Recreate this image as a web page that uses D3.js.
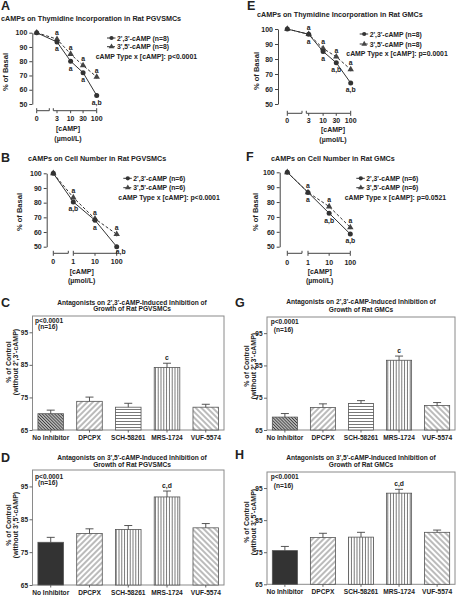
<!DOCTYPE html>
<html><head><meta charset="utf-8">
<script src="https://cdn.jsdelivr.net/npm/d3@7"></script>
<style>
body{margin:0;background:#fff;}
text{font-family:"Liberation Sans",Arial,sans-serif;font-weight:bold;fill:#222;}
</style></head><body>
<script>
// ---------- DATA ----------
const doseA = [0, 3, 10, 30, 100];
const doseB = [0, 1, 10, 100];
const yTicksLine = [50, 60, 70, 80, 90, 100];

const a23 = [100, 93.5, 80, 72, 56];
const a35 = [100, 95.5, 85, 77, 69];
const a23Err = [0, 1, 1, 1, 1.2];
const a35Err = [0, 1, 1, 1, 1.2];
const a23Lab = ["", "a", "a", "a", "a,b"];
const a35Lab = ["", "a", "a", "a", "a"];

const e23 = [100, 96.5, 85, 77.5, 64];
const e35 = [100, 96.5, 87, 81.5, 73];
const e23Err = [0, 1, 1.2, 1, 1.3];
const e35Err = [0, 1, 1, 1, 1.2];
const e23Lab = ["", "a", "a", "a,b", "a,b"];
const e35Lab = ["", "a", "a", "a", "a"];

const b23 = [100, 80.5, 68, 50];
const b35 = [100, 83.5, 69, 58.5];
const b23Err = [0, 1, 1, 1.3];
const b35Err = [0, 1, 1, 1.5];
const b23Lab = ["", "a,b", "a", "a,b"];
const b35Lab = ["", "a", "a", "a"];

const f23 = [100, 86.5, 72.5, 58.5];
const f35 = [100, 86.5, 77, 63];
const f23Err = [0, 1, 1, 1.2];
const f35Err = [0, 1, 1, 1.2];
const f23Lab = ["", "a", "a,b", "a,b"];
const f35Lab = ["", "a", "a", "a"];

const inhibitors = ["No Inhibitor", "DPCPX", "SCH-58261", "MRS-1724", "VUF-5574"];
const yTicksBar = [65, 75, 85, 95];
const cVals = [70, 73.8, 72, 84.2, 72];
const cErr = [1.1, 1.3, 1.2, 1.3, 0.9];
const dVals = [78, 80.7, 81.9, 91.8, 82.4];
const dErr = [1.5, 1.4, 1.2, 1.8, 1.3];
const gVals = [69, 72, 73.2, 86.6, 72.6];
const gErr = [1.1, 1.1, 0.9, 1.3, 0.9];
const hVals = [75.5, 79.6, 79.7, 93.4, 81.2];
const hErr = [1.3, 1.3, 1.5, 1.2, 0.7];

// ---------- SVG ----------
const svg = d3.select("body").append("svg").attr("width", 457).attr("height", 599);
const defs = svg.append("defs");
function linePat(id, spacing, angle, color, w, bg) {
  const p = defs.append("pattern").attr("id", id).attr("patternUnits", "userSpaceOnUse")
    .attr("width", spacing).attr("height", spacing)
    .attr("patternTransform", `rotate(${angle})`);
  if (bg) p.append("rect").attr("width", spacing).attr("height", spacing).attr("fill", bg);
  p.append("line").attr("x1", spacing / 2).attr("x2", spacing / 2).attr("y1", 0).attr("y2", spacing)
    .attr("stroke", color).attr("stroke-width", w);
}
linePat("pDark", 2.2, -45, "#3a3a3a", 1.3, "#fff");
linePat("pUp", 4, 45, "#555", 0.8, "#fff");
linePat("pDown", 4, -45, "#555", 0.8, "#fff");
linePat("pHoriz", 3, 90, "#555", 0.8, "#fff");
linePat("pVert", 2.8, 0, "#555", 0.8, "#fff");

function txt(g, x, y, s, size, anchor) {
  return g.append("text").attr("x", x).attr("y", y).attr("font-size", size)
    .attr("text-anchor", anchor || "start").text(s);
}

// ---------- LINE PANELS ----------
function linePanel(c) {
  const g = svg.append("g");
  txt(g, c.lx, c.ly, c.letter, 12.5);
  txt(g, c.tx, c.ty, c.title, 7.2);
  const y = d3.scaleLinear().domain([50, 100]).range([c.yBot, c.yTop]);
  const xl = d3.scaleLog().domain([c.doses[1], 100]).range([c.x1, c.x100]);
  const xp = v => v === 0 ? c.x0 : xl(v);

  const ya = g.append("g").attr("transform", `translate(${c.axX},0)`)
    .call(d3.axisLeft(y).tickValues(yTicksLine).tickSize(3).tickSizeOuter(0).tickPadding(2));
  ya.selectAll("text").attr("font-size", 7).attr("font-family", "Liberation Sans, Arial").attr("font-weight", "bold").attr("fill", "#222");
  ya.selectAll("path,line").attr("stroke", "#444");

  const ax = g.append("g").attr("stroke", "#444").attr("stroke-width", 1);
  [c.seg1, c.seg2].forEach(s => {
    ax.append("line").attr("x1", s[0]).attr("x2", s[1]).attr("y1", c.axY).attr("y2", c.axY);
    ax.append("line").attr("x1", s[0]).attr("x2", s[0]).attr("y1", c.axY - 2.5).attr("y2", c.axY);
    ax.append("line").attr("x1", s[1]).attr("x2", s[1]).attr("y1", c.axY - 2.5).attr("y2", c.axY);
  });
  c.doses.forEach(d => {
    ax.append("line").attr("x1", xp(d)).attr("x2", xp(d)).attr("y1", c.axY).attr("y2", c.axY + 2.5);
    txt(g, xp(d), c.tickLabY, String(d), 7, "middle");
  });
  txt(g, c.unitX, c.unitY1, "[cAMP]", 7, "middle");
  txt(g, c.unitX, c.unitY2, "(\u00b5mol/L)", 7, "middle");
  g.append("text").attr("transform", `translate(${c.ylabX},${c.ylabY}) rotate(-90)`)
    .attr("font-size", 7.5).attr("text-anchor", "middle").text("% of Basal");

  const series = [
    { v: c.d35, e: c.e35, lab: c.l35, dash: "3,2", tri: true },
    { v: c.d23, e: c.e23, lab: c.l23, dash: null, tri: false }
  ];
  const line = d3.line().x(d => xp(d[0])).y(d => y(d[1]));
  series.forEach(s => {
    const pts = c.doses.map((d, i) => [d, s.v[i], s.e[i], s.lab[i], i]);
    g.append("path").attr("d", line(pts)).attr("fill", "none").attr("stroke", "#333")
      .attr("stroke-width", 1).attr("stroke-dasharray", s.dash);
    pts.forEach(p => {
      if (p[2] > 0) {
        g.append("line").attr("x1", xp(p[0])).attr("x2", xp(p[0]))
          .attr("y1", y(p[1] - p[2])).attr("y2", y(p[1] + p[2])).attr("stroke", "#333").attr("stroke-width", 0.8);
      }
      if (s.tri) {
        g.append("path").attr("d", d3.symbol(d3.symbolTriangle, 18)())
          .attr("transform", `translate(${xp(p[0])},${y(p[1])})`).attr("fill", "#444");
      } else {
        g.append("circle").attr("cx", xp(p[0])).attr("cy", y(p[1])).attr("r", 2.5).attr("fill", "#333");
      }
      if (p[3]) {
        let lx = xp(p[0]);
        let ly = s.tri ? y(p[1]) - 4.2 : y(p[1]) + 9.3;
        if (!s.tri && p[4] === c.doses.length - 1 && c.lastShift) {
          lx += c.lastShift[0]; ly += c.lastShift[1];
        }
        txt(g, lx, ly, p[3], 6.8, "middle");
      }
    });
  });
  // legend
  const rows = [{ name: "2',3'-cAMP", tri: false, dash: null }, { name: "3',5'-cAMP", tri: true, dash: "3,2" }];
  rows.forEach((r, i) => {
    const yy = c.legY[i];
    g.append("line").attr("x1", c.legX).attr("x2", c.legX + 8.5).attr("y1", yy).attr("y2", yy)
      .attr("stroke", "#333").attr("stroke-dasharray", r.dash);
    if (r.tri) g.append("path").attr("d", d3.symbol(d3.symbolTriangle, 14)())
      .attr("transform", `translate(${c.legX + 4.5},${yy})`).attr("fill", "#444");
    else g.append("circle").attr("cx", c.legX + 4.5).attr("cy", yy).attr("r", 2.1).attr("fill", "#333");
    txt(g, c.legX + 10, yy + 2.5, `${r.name} (n=${c.n})`, 6.8);
  });
  txt(g, c.pX, c.pY + 2.5, `cAMP Type x [cAMP]: ${c.p}`, 6.9);
}

linePanel({ letter: "A", lx: 1, ly: 10, title: "cAMPs on Thymidine Incorporation in Rat PGVSMCs", tx: 1, ty: 20.5,
  axX: 32.3, yTop: 32.7, yBot: 104, x0: 36.7, x1: 57, x100: 96.7, doses: doseA, axY: 110.7,
  seg1: [36.7, 49.3], seg2: [53.3, 96.7], tickLabY: 120.8, unitX: 68, unitY1: 130.5, unitY2: 140.5,
  ylabX: 7.5, ylabY: 72, legX: 107, legY: [38, 46.7], pX: 95.7, pY: 56.7, n: 8, p: "p<0.0001",
  d23: a23, d35: a35, e23: a23Err, e35: a35Err, l23: a23Lab, l35: a35Lab });

linePanel({ letter: "E", lx: 247, ly: 10, title: "cAMPs on Thymidine Incorporation in Rat GMCs", tx: 257, ty: 16.5,
  axX: 278, yTop: 29, yBot: 104, x0: 287.3, x1: 308.7, x100: 350.7, doses: doseA, axY: 113.3,
  seg1: [287.3, 302], seg2: [306.3, 350.7], tickLabY: 122.7, unitX: 333, unitY1: 131.8, unitY2: 141.5,
  ylabX: 258.5, ylabY: 71, legX: 359.7, legY: [34, 44], pX: 346.3, pY: 53, n: 8, p: "p=0.0001",
  d23: e23, d35: e35, e23: e23Err, e35: e35Err, l23: e23Lab, l35: e35Lab });

linePanel({ letter: "B", lx: 1, ly: 162, title: "cAMPs on Cell Number in Rat PGVSMCs", tx: 28, ty: 160.8,
  axX: 46.7, yTop: 173.3, yBot: 246.7, x0: 53.3, x1: 73.3, x100: 116.7, doses: doseB, axY: 253.3,
  seg1: [53.3, 68.3], seg2: [73.3, 116.7], tickLabY: 264, unitX: 81.7, unitY1: 273.5, unitY2: 283.3,
  ylabX: 22, ylabY: 212, legX: 123.3, legY: [178.3, 187.7], pX: 118.3, pY: 197.3, n: 6, p: "p<0.0001",
  d23: b23, d35: b35, e23: b23Err, e35: b35Err, l23: b23Lab, l35: b35Lab, lastShift: [4, -2.5] });

linePanel({ letter: "F", lx: 246, ly: 161, title: "cAMPs on Cell Number in Rat GMCs", tx: 271, ty: 160.8,
  axX: 279.7, yTop: 172.3, yBot: 246.7, x0: 287.3, x1: 308, x100: 350.3, doses: doseB, axY: 253.3,
  seg1: [287.3, 302], seg2: [308, 350.3], tickLabY: 264.5, unitX: 319.7, unitY1: 273.5, unitY2: 283.3,
  ylabX: 257.5, ylabY: 212, legX: 356.3, legY: [178.3, 187.7], pX: 344.7, pY: 197.3, n: 6, p: "p=0.0521",
  d23: f23, d35: f35, e23: f23Err, e35: f35Err, l23: f23Lab, l35: f35Lab });

// ---------- BAR PANELS ----------
function barPanel(c) {
  const g = svg.append("g");
  txt(g, c.lx, c.ly, c.letter, 12.5);
  txt(g, c.tcx, c.ty1, c.title1, 6.6, "middle");
  txt(g, c.tcx, c.ty2, c.title2, 6.6, "middle");
  const x = d3.scaleBand().domain(inhibitors).range([c.fx0, c.fx1]).paddingInner(0.34).paddingOuter(0.14);
  const y = d3.scaleLinear().domain([65, 100]).range([c.fy1, c.fy0]);
  g.append("rect").attr("x", c.fx0).attr("y", c.fy0).attr("width", c.fx1 - c.fx0).attr("height", c.fy1 - c.fy0)
    .attr("fill", "none").attr("stroke", "#8a8a8a").attr("stroke-width", 1);
  const ya = g.append("g").attr("transform", `translate(${c.fx0},0)`)
    .call(d3.axisLeft(y).tickValues(yTicksBar).tickSize(3).tickSizeOuter(0).tickPadding(1.5));
  ya.select(".domain").remove();
  ya.selectAll("line").attr("stroke", "#666");
  ya.selectAll("text").attr("font-size", 6.5).attr("font-family", "Liberation Sans, Arial").attr("font-weight", "bold").attr("fill", "#222");
  const xa = g.append("g").attr("transform", `translate(0,${c.fy1})`)
    .call(d3.axisBottom(x).tickSize(2.5).tickSizeOuter(0).tickPadding(3));
  xa.select(".domain").remove();
  xa.selectAll("line").attr("stroke", "#666");
  xa.selectAll("text").attr("font-size", 6.6).attr("font-family", "Liberation Sans, Arial").attr("font-weight", "bold").attr("fill", "#222");

  inhibitors.forEach((k, i) => {
    const v = c.vals[i], e = c.errs[i];
    const bx = x(k), bw = x.bandwidth(), cx = bx + bw / 2;
    g.append("rect").attr("x", bx).attr("y", y(v)).attr("width", bw).attr("height", y(65) - y(v))
      .attr("fill", c.fills[i]).attr("stroke", "#555").attr("stroke-width", 0.8);
    g.append("line").attr("x1", cx).attr("x2", cx).attr("y1", y(v)).attr("y2", y(v + e)).attr("stroke", "#444").attr("stroke-width", 0.9);
    g.append("line").attr("x1", cx - 4).attr("x2", cx + 4).attr("y1", y(v + e)).attr("y2", y(v + e)).attr("stroke", "#444").attr("stroke-width", 0.9);
    if (c.ann[i]) txt(g, cx, y(v + e) - 3.5, c.ann[i], 6.8, "middle");
  });
  txt(g, c.pX, c.pY, "p<0.0001", 6.6);
  txt(g, c.pX + 3, c.nY, "(n=16)", 6.6);
  const lab = g.append("text").attr("transform", `translate(${c.ylx},${c.yly}) rotate(-90)`)
    .attr("font-size", 7).attr("text-anchor", "middle");
  lab.append("tspan").attr("x", 0).attr("dy", 0).text("% of Control");
  lab.append("tspan").attr("x", 0).attr("dy", 7).text(c.ylab2);
}

const fills23 = ["url(#pDark)", "url(#pUp)", "url(#pHoriz)", "url(#pVert)", "url(#pDown)"];
const fills35 = ["#333", "url(#pUp)", "url(#pVert)", "url(#pVert)", "url(#pDown)"];

barPanel({ letter: "C", lx: 1, ly: 307, tcx: 132, ty1: 304.6, ty2: 311.3,
  title1: "Antagonists on 2',3'-cAMP-Induced Inhibition of", title2: "Growth of Rat PGVSMCs",
  fx0: 32.5, fx1: 224, fy0: 316, fy1: 430, vals: cVals, errs: cErr, fills: fills23,
  ann: ["", "", "", "c", ""], pX: 35, pY: 322.5, nY: 329, ylx: 10.5, yly: 362, ylab2: "(without 2',3'-cAMP)" });

barPanel({ letter: "D", lx: 1, ly: 462, tcx: 132, ty1: 459.8, ty2: 466.6,
  title1: "Antagonists on 3',5'-cAMP-Induced Inhibition of", title2: "Growth of Rat PGVSMCs",
  fx0: 32.5, fx1: 224, fy0: 470, fy1: 585, vals: dVals, errs: dErr, fills: fills35,
  ann: ["", "", "", "c,d", ""], pX: 35, pY: 478.8, nY: 485, ylx: 10.5, yly: 525, ylab2: "(without 3',5'-cAMP)" });

barPanel({ letter: "G", lx: 235, ly: 307, tcx: 361, ty1: 304, ty2: 312.3,
  title1: "Antagonists on 2',3'-cAMP-Induced Inhibition of", title2: "Growth of Rat GMCs",
  fx0: 267, fx1: 455, fy0: 317, fy1: 430, vals: gVals, errs: gErr, fills: fills23,
  ann: ["", "", "", "c", ""], pX: 270.7, pY: 324, nY: 331.5, ylx: 248.5, yly: 366, ylab2: "(without 2',3'-cAMP)" });

barPanel({ letter: "H", lx: 235, ly: 458.5, tcx: 361, ty1: 459.6, ty2: 466.8,
  title1: "Antagonists on 3',5'-cAMP-Induced Inhibition of", title2: "Growth of Rat GMCs",
  fx0: 267, fx1: 455, fy0: 472, fy1: 584.3, vals: hVals, errs: hErr, fills: fills35,
  ann: ["", "", "", "c,d", ""], pX: 270.7, pY: 479, nY: 488, ylx: 248.5, yly: 522, ylab2: "(without 3',5'-cAMP)" });
</script>
</body></html>
